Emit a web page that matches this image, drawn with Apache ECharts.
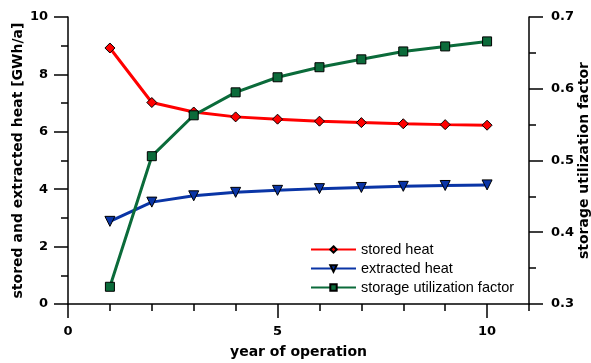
<!DOCTYPE html>
<html>
<head>
<meta charset="utf-8">
<script src="https://cdn.jsdelivr.net/npm/echarts@6/dist/echarts.min.js"></script>
<style>
html,body{margin:0;padding:0;background:#fff;}
#chart{width:591px;height:363px;}
</style>
</head>
<body>
<div id="chart"></div>
<script>
// data
var years = [1, 2, 3, 4, 5, 6, 7, 8, 9, 10]
var storedHeat = [8.92, 7.02, 6.69, 6.52, 6.44, 6.37, 6.32, 6.28, 6.25, 6.23]
var extractedHeat = [2.88, 3.55, 3.77, 3.89, 3.96, 4.02, 4.06, 4.10, 4.13, 4.15]
var utilFactor = [0.324, 0.506, 0.563, 0.595, 0.616, 0.630, 0.641, 0.652, 0.659, 0.666]
var xLabels = [0, 5, 10]
var xMinorTicks = [0, 1, 2, 3, 4, 5, 6, 7, 8, 9, 10, 11]

function pairs(vals) {
	return years.map(function(y, i) { return [y, vals[i]] })
}

var myChart = echarts.init(document.getElementById("chart"))
var boldFam = '"DejaVu Sans", sans-serif'
var lineSt = {color: '#000', width: 1.5}
var axisLine = {show: true, onZero: false, lineStyle: lineSt}
var majorTick = {show: true, inside: false, length: 14, lineStyle: lineSt}
var minorTick = {show: true, splitNumber: 2, length: 7, lineStyle: lineSt}
var lbl = {color: '#000', fontSize: 13, fontWeight: 'bold', fontFamily: boldFam}
var nameStyle = {color: '#000', fontSize: 14, fontWeight: 'bold', fontFamily: boldFam}

function mkSeries(name, vals, color, symbol, size, yIdx) {
	return {
		name: name,
		type: 'line',
		yAxisIndex: yIdx,
		data: pairs(vals),
		symbol: symbol,
		symbolSize: size,
		lineStyle: {color: color, width: 3},
		itemStyle: {color: color, borderColor: '#000', borderWidth: 1},
		emphasis: {disabled: true},
		z: 3
	}
}

var option = {
	animation: false,
	backgroundColor: '#fff',
	grid: {left: 68, right: 62, top: 17, bottom: 59, outerBoundsMode: 'none', containLabel: false},
	legend: {
		orient: 'vertical',
		left: 305,
		top: 237,
		itemGap: 4,
		itemWidth: 45,
		itemHeight: 8,
		textStyle: {color: '#000', fontSize: 14.5, fontFamily: '"Liberation Sans", Arial, sans-serif'},
		data: ['stored heat', 'extracted heat', 'storage utilization factor']
	},
	xAxis: [{
		type: 'value',
		min: 0, max: 11, interval: 1,
		name: 'year of operation',
		nameLocation: 'middle',
		nameGap: 41,
		nameMoveOverlap: false,
		nameTextStyle: nameStyle,
		axisLine: axisLine,
		axisTick: {show: true, inside: false, length: 14, lineStyle: lineSt, customValues: xLabels},
		axisLabel: Object.assign({margin: 21, customValues: xLabels}, lbl),
		splitLine: {show: false}
	}, {
		// short ticks on every year
		type: 'value',
		position: 'bottom',
		min: 0, max: 11, interval: 1,
		axisLine: {show: false, onZero: false},
		axisTick: {show: true, inside: false, length: 7, lineStyle: lineSt, customValues: xMinorTicks},
		axisLabel: {show: false},
		splitLine: {show: false}
	}],
	yAxis: [{
		type: 'value',
		min: 0, max: 10, interval: 2,
		name: 'stored and extracted heat [GWh/a]',
		nameLocation: 'middle',
		nameRotate: 90,
		nameGap: 43,
		nameMoveOverlap: false,
		nameTextStyle: nameStyle,
		axisLine: axisLine,
		axisTick: majorTick,
		minorTick: minorTick,
		axisLabel: Object.assign({margin: 20}, lbl),
		splitLine: {show: false}
	}, {
		type: 'value',
		position: 'right',
		min: 0.3, max: 0.7, interval: 0.1,
		name: 'storage utilization factor',
		nameLocation: 'middle',
		nameRotate: 90,
		nameGap: 48,
		nameMoveOverlap: false,
		nameTextStyle: nameStyle,
		axisLine: axisLine,
		axisTick: majorTick,
		minorTick: minorTick,
		axisLabel: Object.assign({margin: 22, formatter: function(v) { return v.toFixed(1) }}, lbl),
		splitLine: {show: false}
	}],
	series: [
		mkSeries('stored heat', storedHeat, '#ff0000', 'diamond', 10, 0),
		mkSeries('extracted heat', extractedHeat, '#0a35a6', 'triangle', 10, 0),
		mkSeries('storage utilization factor', utilFactor, '#0b6b3a', 'rect', 9, 1)
	]
}
// inverted triangles for extracted heat
option.series[1].symbolRotate = 180

myChart.setOption(option)
</script>
</body>
</html>
